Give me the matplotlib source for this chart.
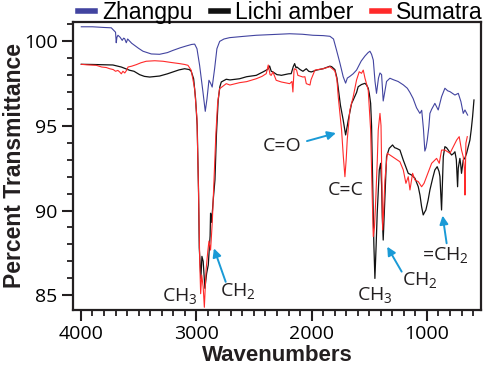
import numpy as np
import matplotlib.pyplot as plt
from matplotlib.ticker import MultipleLocator

plt.rcParams['mathtext.default'] = 'regular'

# Zhangpu (blue)
zp_wn = [3997, 3900, 3800, 3737, 3700, 3694, 3688, 3679, 3660, 3642, 3630, 3621, 3607, 3595,
         3560, 3500, 3462, 3390, 3318, 3250, 3202, 3140, 3087, 3040, 3014, 2994, 2971, 2942,
         2922, 2907, 2890, 2876, 2862, 2841, 2821, 2797, 2760, 2711, 2600, 2480, 2350, 2190,
         2080, 1988, 1900, 1841, 1810, 1784, 1755, 1726, 1705, 1690, 1668, 1640, 1610, 1570,
         1537, 1510, 1494, 1480, 1465, 1450, 1437, 1420, 1407, 1393, 1379, 1365, 1350, 1321,
         1290, 1250, 1205, 1170, 1147, 1120, 1090, 1061, 1045, 1030, 1018, 1008, 997, 983,
         974, 959, 931, 902, 873, 844, 820, 800, 757, 728, 705, 685, 670, 647]
zp_t = [100.82, 100.82, 100.78, 100.76, 100.5, 99.88, 100.2, 100.32, 100.2, 100.02, 100.15,
        100.12, 99.88, 100.1, 99.85, 99.55, 99.38, 99.22, 99.2, 99.3, 99.43, 99.58, 99.69,
        99.78, 99.8, 99.53, 98.55, 96.98, 95.84, 96.58, 97.67, 97.5, 97.27, 98.35, 99.53,
        99.96, 100.1, 100.18, 100.25, 100.32, 100.36, 100.41, 100.38, 100.32, 100.3, 100.26,
        100.1, 99.45, 98.7, 97.88, 97.5, 97.8, 97.9, 98.05, 98.27, 98.8, 99.1, 99.3, 99.38,
        99.2, 98.86, 97.6, 96.9, 97.8, 98.1, 98.0, 96.45, 97.0, 97.6, 97.79, 97.7, 97.6, 97.4,
        97.2, 96.95, 96.6, 96.05, 95.72, 95.9, 94.8, 93.5, 93.7, 94.15, 94.94, 95.72, 95.96,
        96.31, 95.92, 96.7, 97.2, 97.05, 97.0, 96.8, 96.9, 96.41, 95.72, 95.92, 95.62]

# Lichi amber (black)
la_wn = [3997, 3900, 3800, 3723, 3650, 3578, 3540, 3491, 3450, 3404, 3318, 3250, 3202, 3150,
         3101, 3060, 3044, 3023, 3006, 2992, 2980, 2974, 2960, 2951, 2940, 2925, 2910, 2896,
         2880, 2876, 2867, 2853, 2838, 2825, 2810, 2795, 2783, 2740, 2708, 2624, 2563, 2480,
         2419, 2379, 2364, 2350, 2335, 2300, 2275, 2263, 2200, 2177, 2159, 2147, 2135, 2127,
         2100, 2075, 2046, 2025, 2003, 1957, 1900, 1841, 1826, 1798, 1780, 1769, 1750, 1726,
         1705, 1690, 1682, 1653, 1639, 1610, 1596, 1567, 1537, 1523, 1509, 1500, 1488, 1480,
         1471, 1460, 1451, 1440, 1431, 1413, 1401, 1393, 1387, 1379, 1372, 1364, 1350, 1327,
         1298, 1280, 1263, 1234, 1205, 1185, 1162, 1133, 1104, 1075, 1060, 1046, 1032, 1020,
         1009, 990, 974, 950, 931, 911, 895, 887, 880, 873, 866, 858, 844, 830, 815, 800, 786,
         770, 757, 745, 738, 734, 728, 714, 707, 700, 692, 685, 670, 656, 640, 627, 615, 604,
         592]
la_t = [98.61, 98.6, 98.58, 98.57, 98.45, 98.26, 98.2, 98.0, 97.9, 97.86, 97.92, 98.05, 98.16,
        98.28, 98.35, 98.3, 98.2, 97.76, 96.58, 95.0, 91.0, 87.8, 86.0, 87.3, 87.0, 85.42,
        86.3, 86.79, 88.5, 89.84, 89.3, 90.62, 91.8, 94.5, 96.5, 97.3, 97.57, 97.73, 97.69,
        97.76, 97.88, 97.96, 98.17, 98.32, 98.51, 98.2, 98.16, 98.0, 97.98, 97.96, 98.05,
        98.06, 98.47, 98.65, 98.4, 98.45, 98.3, 98.2, 98.35, 98.2, 98.16, 98.27, 98.35, 98.5,
        98.47, 98.3, 97.8, 97.2, 96.2, 95.33, 94.45, 95.0, 95.33, 96.31, 96.51, 96.95, 97.29,
        97.42, 97.49, 97.39, 97.2, 96.9, 96.31, 95.0, 91.8, 88.0, 86.0, 88.0, 89.84, 92.39,
        92.78, 91.5, 89.64, 88.26, 89.5, 90.81, 93.17, 93.66, 93.86, 93.7, 93.66, 93.56,
        92.97, 92.6, 92.19, 92.09, 91.9, 91.4, 90.9, 90.22, 89.74, 89.9, 90.03, 90.6, 91.21,
        91.9, 92.39, 92.58, 92.3, 92.0, 91.0, 90.03, 91.5, 93.17, 93.76, 93.7, 93.56, 93.4,
        93.27, 93.35, 93.46, 93.0, 92.0, 91.4, 92.5, 93.07, 92.7, 92.19, 92.6, 92.97, 93.1,
        93.37, 93.8, 94.15, 94.8, 95.52, 96.51]

# Sumatra (red)
su_wn = [3997, 3950, 3900, 3867, 3820, 3780, 3751, 3720, 3700, 3680, 3664, 3650, 3636, 3620,
         3600, 3592, 3560, 3520, 3480, 3434, 3360, 3289, 3220, 3144, 3100, 3072, 3044, 3014,
         2994, 2980, 2970, 2962, 2953, 2940, 2930, 2915, 2900, 2890, 2876, 2870, 2860, 2845,
         2830, 2815, 2798, 2740, 2708, 2624, 2563, 2480, 2430, 2393, 2376, 2360, 2350, 2335,
         2307, 2263, 2190, 2170, 2162, 2152, 2147, 2130, 2119, 2075, 2058, 2046, 2014, 2005,
         1971, 1900, 1841, 1798, 1780, 1769, 1740, 1725, 1711, 1700, 1691, 1668, 1639, 1610,
         1587, 1567, 1552, 1537, 1509, 1488, 1475, 1465, 1455, 1445, 1430, 1422, 1407, 1398,
         1393, 1384, 1375, 1364, 1344, 1321, 1277, 1234, 1205, 1182, 1162, 1147, 1124, 1104,
         1075, 1046, 1025, 1003, 980, 959, 916, 893, 873, 844, 800, 771, 742, 720, 700, 685,
         675, 670, 666, 662, 650]
su_t = [98.61, 98.58, 98.56, 98.55, 98.45, 98.42, 98.35, 98.3, 98.2, 98.25, 98.16, 98.05, 98.2,
        98.1, 98.3, 98.45, 98.5, 98.59, 98.7, 98.79, 98.82, 98.79, 98.72, 98.65, 98.6, 98.55,
        98.26, 97.17, 95.41, 91.0, 87.0, 85.1, 86.2, 85.5, 84.3, 86.5, 87.6, 88.2, 87.67,
        88.3, 89.5, 92.0, 94.5, 96.3, 97.17, 97.47, 97.39, 97.53, 97.59, 97.76, 97.9, 98.06,
        98.57, 98.0, 97.96, 98.16, 97.67, 97.57, 97.47, 97.6, 96.98, 98.3, 98.35, 98.27, 97.96,
        97.86, 97.88, 97.47, 97.39, 97.7, 98.27, 98.35, 98.47, 98.22, 97.7, 96.7, 94.74, 93.2,
        91.99, 93.0, 94.15, 95.92, 96.7, 97.69, 98.17, 98.08, 98.27, 97.79, 97.1, 94.74, 91.0,
        88.46, 89.0, 90.42, 93.0, 94.74, 95.72, 95.0, 92.78, 88.85, 90.0, 91.8, 93.37, 93.27,
        93.07, 92.87, 92.39, 91.6, 91.99, 91.21, 92.19, 91.8, 91.7, 91.4, 91.6, 91.99, 92.4,
        92.78, 93.07, 92.78, 93.56, 93.56, 93.37, 93.76, 94.15, 94.35, 93.56, 93.17, 92.5,
        90.91, 92.5, 93.96, 94.35]

fig = plt.figure(figsize=(4.84, 3.67), dpi=100)
ax = fig.add_axes([0.1508, 0.1553, 0.843, 0.7856])

ax.plot(zp_wn, zp_t, color='#4244a0', lw=0.8, label='Zhangpu')
ax.plot(la_wn, la_t, color='#111111', lw=0.9, label='Lichi amber')
ax.plot(su_wn, su_t, color='#ff2a2a', lw=0.8, label='Sumatra')

ax.set_xlim(4069, 531)
ax.set_ylim(84.14, 101.12)

ax.xaxis.set_major_locator(MultipleLocator(1000))
ax.xaxis.set_minor_locator(MultipleLocator(100))
ax.yaxis.set_major_locator(MultipleLocator(5))
ax.yaxis.set_minor_locator(MultipleLocator(1))

spine_col = '#231f20'
for s in ax.spines.values():
    s.set_linewidth(1.6)
    s.set_color(spine_col)
ax.tick_params(which='major', length=8, width=1.5, color=spine_col, pad=3,
               labelsize=14)
ax.tick_params(which='minor', length=4.5, width=1.3, color=spine_col)
for lab in ax.get_xticklabels() + ax.get_yticklabels():
    lab.set_family('Open Sans')

ax.set_xlabel('Wavenumbers', fontsize=16, fontweight='bold', family='Liberation Sans',
              color='#231f20')
ax.set_ylabel('Percent Transmittance', fontsize=16.5, fontweight='bold',
              family='Liberation Sans', color='#231f20')
ax.xaxis.set_label_coords(0.5, -0.12)
ax.yaxis.set_label_coords(-0.115, 0.5)

leg = fig.legend(loc='center', bbox_to_anchor=(0.579, 0.966), ncol=3, frameon=False,
                 handlelength=0.75, handletextpad=0.3, columnspacing=0.8,
                 prop={'family': 'Liberation Sans', 'size': 16.5})
for h in leg.legend_handles:
    h.set_linewidth(4)

# band labels
txt = dict(family='Open Sans', fontsize=14, ha='center', va='center', color='#231f20')
ax.text(2253, 93.8, 'C=O', **txt)
ax.text(1702, 91.2, 'C=C', **txt)
ax.text(3142, 84.95, 'CH$_3$', **txt)
ax.text(2640, 85.25, 'CH$_2$', **txt)
ax.text(1451, 85.05, 'CH$_3$', **txt)
ax.text(1061, 85.9, 'CH$_2$', **txt)
ax.text(835, 87.4, '=CH$_2$', **txt)

arrow = dict(arrowstyle='-|>,head_length=0.5,head_width=0.25', color='#1a9ad6', lw=1.4,
             shrinkA=0, shrinkB=0)
ax.annotate('', xy=(1789, 94.56), xytext=(2040, 94.09), arrowprops=arrow)
ax.annotate('', xy=(2847, 87.77), xytext=(2745, 85.8), arrowprops=arrow)
ax.annotate('', xy=(1344, 87.87), xytext=(1219, 86.4), arrowprops=arrow)
ax.annotate('', xy=(864, 89.7), xytext=(829, 88.07), arrowprops=arrow)

plt.savefig('out.png', dpi=100)
